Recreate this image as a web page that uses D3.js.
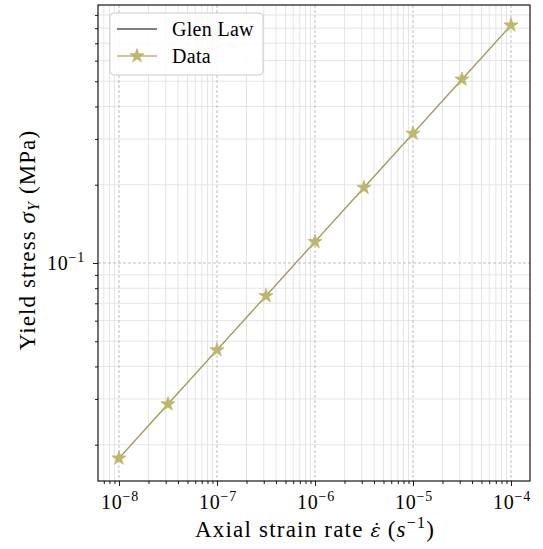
<!DOCTYPE html>
<html><head><meta charset="utf-8">
<script src="https://cdn.jsdelivr.net/npm/d3@7"></script>
<style>body{margin:0;background:#fff}svg{display:block}text{font-family:"Liberation Serif","DejaVu Serif",serif;fill:#000}</style>
</head><body>
<script>
const strainRate = [1e-8, 3.162e-8, 1e-7, 3.162e-7, 1e-6, 3.162e-6, 1e-5, 3.162e-5, 1e-4];
const dataStress = [0.01774, 0.02865, 0.04627, 0.0747, 0.1207, 0.1949, 0.3148, 0.5084, 0.821];
const glenStress = [0.01774, 0.02865, 0.04627, 0.0747, 0.1207, 0.1949, 0.3148, 0.5084, 0.821];
const xTickExp = [-8, -7, -6, -5, -4];
const yTickExp = [-1];
const legendLabels = ["Glen Law", "Data"];

const W = 543, H = 549;
const svg = d3.select("body").append("svg").attr("width", W).attr("height", H);
const L = 98, R = 530, T = 5, B = 481;
const x = d3.scaleLog().domain([Math.pow(10, -8.214), Math.pow(10, -3.806)]).range([L, R]);
const y = d3.scaleLog().domain([Math.pow(10, -1.8385), Math.pow(10, -0.0077)]).range([B, T]);

function minors(scale) {
  const [a, b] = scale.domain();
  const out = [];
  for (let e = Math.floor(Math.log10(a)); e <= Math.ceil(Math.log10(b)); e++) {
    for (let m = 2; m <= 9; m++) {
      const v = m * Math.pow(10, e);
      if (v >= a && v <= b) out.push(v);
    }
  }
  return out;
}
const xMin = minors(x), yMin = minors(y);
const xMaj = xTickExp.map(e => Math.pow(10, e));
const yMaj = yTickExp.map(e => Math.pow(10, e));

const g = svg.append("g");
g.selectAll(".xmg").data(xMin).join("line").attr("x1", d => x(d)).attr("x2", d => x(d)).attr("y1", T).attr("y2", B)
  .attr("stroke", "#dedede").attr("stroke-width", 0.8);
g.selectAll(".ymg").data(yMin).join("line").attr("y1", d => y(d)).attr("y2", d => y(d)).attr("x1", L).attr("x2", R)
  .attr("stroke", "#dedede").attr("stroke-width", 0.8);
g.selectAll(".xMg").data(xMaj).join("line").attr("x1", d => x(d)).attr("x2", d => x(d)).attr("y1", T).attr("y2", B)
  .attr("stroke", "#b8b8b8").attr("stroke-width", 0.9).attr("stroke-dasharray", "3,2");
g.selectAll(".yMg").data(yMaj).join("line").attr("y1", d => y(d)).attr("y2", d => y(d)).attr("x1", L).attr("x2", R)
  .attr("stroke", "#b8b8b8").attr("stroke-width", 0.9).attr("stroke-dasharray", "3,2");

const line = d3.line().x((d, i) => x(strainRate[i])).y(d => y(d));
svg.append("path").datum(glenStress).attr("d", line).attr("fill", "none").attr("stroke", "#000").attr("stroke-width", 1);
const olive = "#bdb76b";
svg.append("path").datum(dataStress).attr("d", line).attr("fill", "none").attr("stroke", olive).attr("stroke-width", 1.6).attr("stroke-opacity", 0.8);
const star = d3.symbol().type(d3.symbolStar).size(62);
svg.selectAll(".pt").data(dataStress).join("path")
  .attr("d", star).attr("transform", (d, i) => `translate(${x(strainRate[i])},${y(d)})`)
  .attr("fill", olive).attr("stroke", olive).attr("stroke-width", 0.8);

const xAxis = d3.axisBottom(x).tickValues(xMaj).tickSize(5).tickFormat("");
const xAxisMin = d3.axisBottom(x).tickValues(xMin).tickSize(3).tickFormat("");
const yAxis = d3.axisLeft(y).tickValues(yMaj).tickSize(5).tickFormat("");
const yAxisMin = d3.axisLeft(y).tickValues(yMin).tickSize(3).tickFormat("");
[xAxis, xAxisMin].forEach(a => {
  const ga = svg.append("g").attr("transform", `translate(0,${B})`).call(a);
  ga.select(".domain").remove();
  ga.selectAll("line").attr("stroke", "#000").attr("stroke-width", 0.9);
});
[yAxis, yAxisMin].forEach(a => {
  const ga = svg.append("g").attr("transform", `translate(${L},0)`).call(a);
  ga.select(".domain").remove();
  ga.selectAll("line").attr("stroke", "#000").attr("stroke-width", 0.9);
});
svg.append("rect").attr("x", L).attr("y", T).attr("width", R - L).attr("height", B - T)
  .attr("fill", "none").attr("stroke", "#000").attr("stroke-width", 1.1);

const xl = svg.selectAll(".xtl").data(xTickExp).join("text")
  .attr("x", d => x(Math.pow(10, d)) + 1).attr("y", B + 28).attr("text-anchor", "middle").attr("font-size", 20).attr("letter-spacing", 0.8);
xl.append("tspan").text("10");
xl.append("tspan").attr("dy", -8).attr("font-size", 14).text(d => "\u2212" + Math.abs(d));
const yl = svg.selectAll(".ytl").data(yTickExp).join("text")
  .attr("x", L - 13).attr("y", d => y(Math.pow(10, d)) + 7.5).attr("text-anchor", "end").attr("font-size", 20).attr("letter-spacing", 0.8);
yl.append("tspan").text("10");
yl.append("tspan").attr("dy", -8).attr("font-size", 14).text(d => "\u2212" + Math.abs(d));

const xlab = svg.append("text").attr("x", (L + R) / 2 + 1).attr("y", 537).attr("text-anchor", "middle").attr("font-size", 23).attr("letter-spacing", 1.2);
xlab.append("tspan").text("Axial strain rate\u00A0");
xlab.append("tspan").attr("font-style", "italic").attr("font-family", "DejaVu Serif").attr("font-size", 19).attr("letter-spacing", 0).text("\u03B5\u0307");
xlab.append("tspan").text("\u00A0(");
xlab.append("tspan").attr("font-style", "italic").text("s");
xlab.append("tspan").attr("dy", -9).attr("font-size", 16).text("\u22121");
xlab.append("tspan").attr("dy", 9).text(")");

const ylab = svg.append("text").attr("transform", `translate(35,240) rotate(-90)`).attr("text-anchor", "middle").attr("font-size", 23).attr("letter-spacing", 1.1);
ylab.append("tspan").text("Yield stress ");
ylab.append("tspan").attr("font-style", "italic").text("\u03C3");
ylab.append("tspan").attr("dy", 4).attr("font-size", 16).attr("font-style", "italic").text("Y");
ylab.append("tspan").attr("dy", -4).text(" (MPa)");

const lg = svg.append("g");
lg.append("rect").attr("x", 110).attr("y", 13).attr("width", 153).attr("height", 62).attr("rx", 4)
  .attr("fill", "#fff").attr("fill-opacity", 0.85).attr("stroke", "#cccccc").attr("stroke-width", 1);
const ly = [29, 56];
lg.append("line").attr("x1", 117).attr("x2", 157).attr("y1", ly[0]).attr("y2", ly[0]).attr("stroke", "#000").attr("stroke-width", 1.2);
lg.append("line").attr("x1", 117).attr("x2", 157).attr("y1", ly[1]).attr("y2", ly[1]).attr("stroke", olive).attr("stroke-width", 1.5);
lg.append("path").attr("d", star).attr("transform", `translate(137,${ly[1]})`).attr("fill", olive).attr("stroke", olive).attr("stroke-width", 0.8);
lg.selectAll(".lt").data(legendLabels).join("text").attr("x", 172).attr("y", (d, i) => ly[i] + 6.5)
  .attr("font-size", 20).attr("letter-spacing", 0.3).text(d => d);
</script>
</body></html>
